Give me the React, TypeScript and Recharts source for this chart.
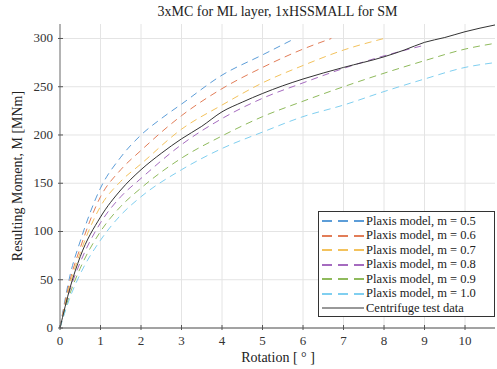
import React from 'react';
import { LineChart, Line, XAxis, YAxis, CartesianGrid } from 'recharts';

// rotation [deg] and moment [MNm]
const rotM05 = [0, 0.25, 0.5, 1, 1.5, 2, 2.5, 3, 4, 5, 5.8];
const momM05 = [0, 55, 90, 145, 177, 200, 217, 232, 262, 283, 300];
const rotM06 = [0, 0.25, 0.5, 1, 1.5, 2, 3, 4, 5, 6, 6.7];
const momM06 = [0, 50, 83, 136, 164, 184, 220, 248, 270, 289, 300];
const rotM07 = [0, 0.25, 0.5, 1, 1.5, 2, 3, 4, 5, 6, 7, 8];
const momM07 = [0, 46, 78, 126, 152, 170, 206, 231, 254, 272, 288, 300];
const rotM08 = [0, 0.25, 0.5, 1, 1.5, 2, 3, 4, 5, 6, 7, 8, 9];
const momM08 = [0, 40, 68, 109, 136, 155, 190, 217, 238, 254, 269, 282, 293];
const rotM09 = [0, 0.25, 0.5, 1, 1.5, 2, 3, 4, 5, 6, 7, 8, 9, 10, 10.74];
const momM09 = [0, 36, 62, 100, 126, 145, 176, 199, 219, 235, 250, 264, 277, 289, 295];
const rotM10 = [0, 0.25, 0.5, 1, 1.5, 2, 3, 4, 5, 6, 7, 8, 9, 10, 10.74];
const momM10 = [0, 32, 56, 91, 117, 136, 164, 186, 203, 219, 231, 245, 258, 270, 275];
const rotTest = [0, 0.25, 0.5, 1, 1.5, 2, 2.5, 3, 3.5, 4, 4.5, 5, 5.5, 6, 7, 8, 8.5, 9, 9.5, 10, 10.74];
const momTest = [0, 42, 74, 115, 143, 164, 181, 196, 209, 224, 234, 243, 251, 258, 270, 281, 288, 296, 301, 307, 314];

const xTicks = [0, 1, 2, 3, 4, 5, 6, 7, 8, 9, 10];
const yTicks = [0, 50, 100, 150, 200, 250, 300];

const FONT = '"Liberation Serif", "DejaVu Serif", serif';

const zip = (r: number[], m: number[]) => r.map((v, i) => ({ r: v, m: m[i] }));

const series = [
  { name: 'Plaxis model, m = 0.5', color: '#5c9dd8', data: zip(rotM05, momM05), dashed: true },
  { name: 'Plaxis model, m = 0.6', color: '#e27d58', data: zip(rotM06, momM06), dashed: true },
  { name: 'Plaxis model, m = 0.7', color: '#f3c25c', data: zip(rotM07, momM07), dashed: true },
  { name: 'Plaxis model, m = 0.8', color: '#a56bbf', data: zip(rotM08, momM08), dashed: true },
  { name: 'Plaxis model, m = 0.9', color: '#8fba5c', data: zip(rotM09, momM09), dashed: true },
  { name: 'Plaxis model, m = 1.0', color: '#80cff0', data: zip(rotM10, momM10), dashed: true },
  { name: 'Centrifuge test data', color: '#333333', data: zip(rotTest, momTest), dashed: false },
];

const tickText = { fontFamily: FONT, fontSize: 13, fill: '#333' };

const XTick = (props: any) => {
  const { x, y, payload } = props;
  return (
    <g>
      <line x1={x} x2={x} y1={y} y2={y - 5} stroke="#555" />
      <text x={x} y={y + 15} textAnchor="middle" style={tickText}>
        {payload.value}
      </text>
    </g>
  );
};

const YTick = (props: any) => {
  const { x, y, payload } = props;
  return (
    <g>
      <line x1={x} x2={x + 5} y1={y} y2={y} stroke="#555" />
      <text x={x - 5} y={y + 4} textAnchor="end" style={tickText}>
        {payload.value}
      </text>
    </g>
  );
};

const LegendBox = () => (
  <div
    style={{
      position: 'absolute',
      left: 318,
      top: 211,
      boxSizing: 'border-box',
      width: 177,
      height: 106,
      border: '1px solid #333',
      background: '#fff',
      padding: '2px 0 0 3px',
      fontFamily: FONT,
      fontSize: 12.5,
      color: '#222',
    }}
  >
    {series.map((s) => (
      <div key={s.name} style={{ display: 'flex', alignItems: 'center', height: 14.5 }}>
        <svg width={42} height={6} style={{ marginRight: 2 }}>
          <line
            x1={0}
            x2={42}
            y1={3}
            y2={3}
            stroke={s.color}
            strokeWidth={s.dashed ? 2 : 1}
            strokeDasharray={s.dashed ? '10 6' : undefined}
          />
        </svg>
        <span style={{ whiteSpace: 'nowrap' }}>{s.name}</span>
      </div>
    ))}
  </div>
);

const textStyle: React.CSSProperties = {
  position: 'absolute',
  fontFamily: FONT,
  fontSize: 14,
  color: '#222',
  whiteSpace: 'nowrap',
  lineHeight: '16px',
};

export default function App() {
  return (
    <div style={{ position: 'absolute', left: 0, top: 0, width: 497, height: 369, background: '#fff' }}>
      <div style={{ ...textStyle, left: 60, width: 435, top: 4, textAlign: 'center' }}>
        3xMC for ML layer, 1xHSSMALL for SM
      </div>
      <LineChart width={497} height={369} margin={{ top: 24, right: 2, bottom: 0, left: 0 }}>
        <CartesianGrid stroke="#e4e4e4" horizontalValues={yTicks} verticalValues={xTicks} />
        <XAxis
          dataKey="r"
          type="number"
          domain={[0, 10.74]}
          ticks={xTicks}
          height={41}
          tickSize={0}
          tickLine={false}
          tick={<XTick />}
          stroke="#555"
          allowDuplicatedCategory={false}
        />
        <YAxis
          type="number"
          domain={[0, 315]}
          ticks={yTicks}
          width={60}
          tickSize={0}
          tickLine={false}
          tick={<YTick />}
          stroke="#777"
        />
        {series.map((s) => (
          <Line
            key={s.name}
            data={s.data}
            dataKey="m"
            name={s.name}
            type="monotone"
            stroke={s.color}
            strokeWidth={1}
            strokeDasharray={s.dashed ? '7 5' : undefined}
            dot={false}
            isAnimationActive={false}
          />
        ))}
      </LineChart>
      <div style={{ ...textStyle, left: 178, width: 200, top: 350, textAlign: 'center' }}>
        Rotation [ {'\u00b0'} ]
      </div>
      <div
        style={{
          ...textStyle,
          left: 18,
          top: 176,
          width: 200,
          textAlign: 'center',
          transform: 'translate(-50%, -50%) rotate(-90deg)',
        }}
      >
        Resulting Moment, M [MNm]
      </div>
      <LegendBox />
    </div>
  );
}
